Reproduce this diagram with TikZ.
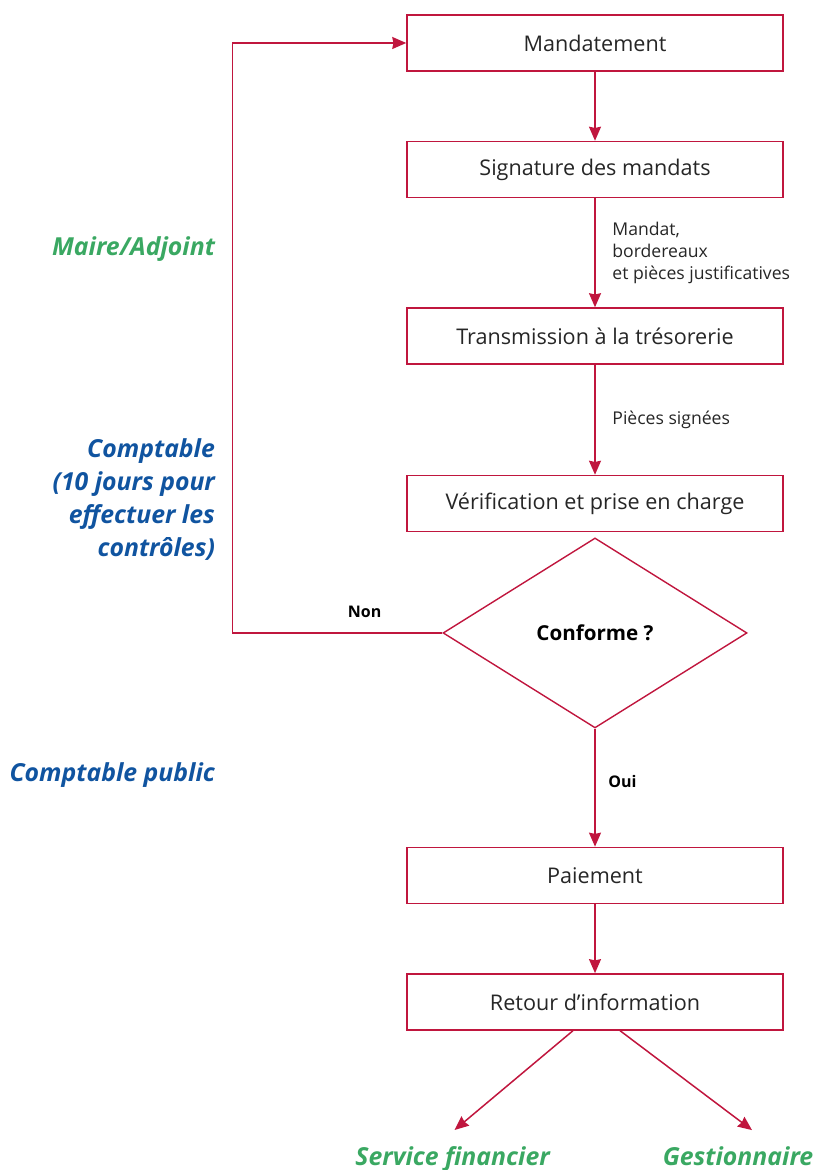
\documentclass[tikz,border=0pt]{standalone}
\usepackage{fontspec}
\setmainfont{Open Sans}
\usetikzlibrary{shapes.geometric,arrows.meta,positioning}

\definecolor{flowred}{RGB}{192,22,62}
\definecolor{actgreen}{RGB}{58,168,98}
\definecolor{actblue}{RGB}{16,84,160}

\begin{document}
\begin{tikzpicture}[
	font=\fontsize{10.8}{13}\selectfont,
	>={Stealth[length=7pt,width=6pt,inset=0.6pt]},
	box/.style={rectangle, draw=flowred, line width=0.75pt, minimum width=188pt, minimum height=28pt, align=center, text=black!85},
	decision/.style={diamond, draw=flowred, line width=0.7pt, minimum width=152pt, minimum height=95pt, inner sep=0pt, aspect=1.6, font=\fontsize{10.3}{12}\selectfont\bfseries},
	flow/.style={->, draw=flowred, line width=0.75pt},
	note/.style={font=\fontsize{8.8}{11}\selectfont, align=left, text=black!85},
	answer/.style={font=\fontsize{8}{10}\selectfont\bfseries},
	actor/.style={font=\fontsize{12.4}{16.5}\selectfont\bfseries\itshape, align=right}
]

\useasboundingbox (0,0) rectangle (409pt,-585pt);

% --- Chaine de mandatement ---
\node[box] (mand) at (297.5pt,-21.5pt) {Mandatement};
\node[box, below=34.5pt of mand] (sign) {Signature des mandats};
\node[box, below=54.5pt of sign] (trans) {Transmission à la trésorerie};
\node[box, below=55pt of trans] (verif) {Vérification et prise en charge};
\node[decision, below=2.5pt of verif] (conf) {Conforme ?};
\node[box, below=59pt of conf] (pay) {Paiement};
\node[box, below=34.5pt of pay] (ret) {Retour d’information};

\draw[flow] (mand) -- (sign);
\draw[flow] (sign) -- node[note, right=5pt]{Mandat,\\bordereaux\\et pièces justificatives} (trans);
\draw[flow] (trans) -- node[note, right=5pt]{Pièces signées} (verif);
\draw[flow] (conf) -- node[answer, right=3pt, pos=0.45]{Oui} (pay);
\draw[flow] (pay) -- (ret);

% --- Retour si non conforme ---
\draw[flow] (conf.west) -- node[answer, above=4pt, pos=0.37]{Non} ++(-105pt,0) |- (mand.west);

% --- Intervenants ---
\node[actor, text=actgreen, anchor=east] (maire) at (111pt,-124.5pt) {Maire/Adjoint};
\node[actor, text=actblue, anchor=east] (compta) at (111pt,-250pt) {Comptable\\(10 jours pour\\effectuer les\\contrôles)};
\node[actor, text=actblue, anchor=east] (public) at (111pt,-387.5pt) {Comptable public};

% --- Destinataires ---
\node[actor, text=actgreen, anchor=base] (svc) at (226.3pt,-582.5pt) {Service financier};
\node[actor, text=actgreen, anchor=base] (gest) at (369pt,-582.5pt) {Gestionnaire};

\draw[flow] ([xshift=-11pt]ret.south) -- ([xshift=1pt,yshift=4.5pt]svc.north);
\draw[flow] ([xshift=12.5pt]ret.south) -- ([xshift=7pt,yshift=4.5pt]gest.north);

\end{tikzpicture}
\end{document}
